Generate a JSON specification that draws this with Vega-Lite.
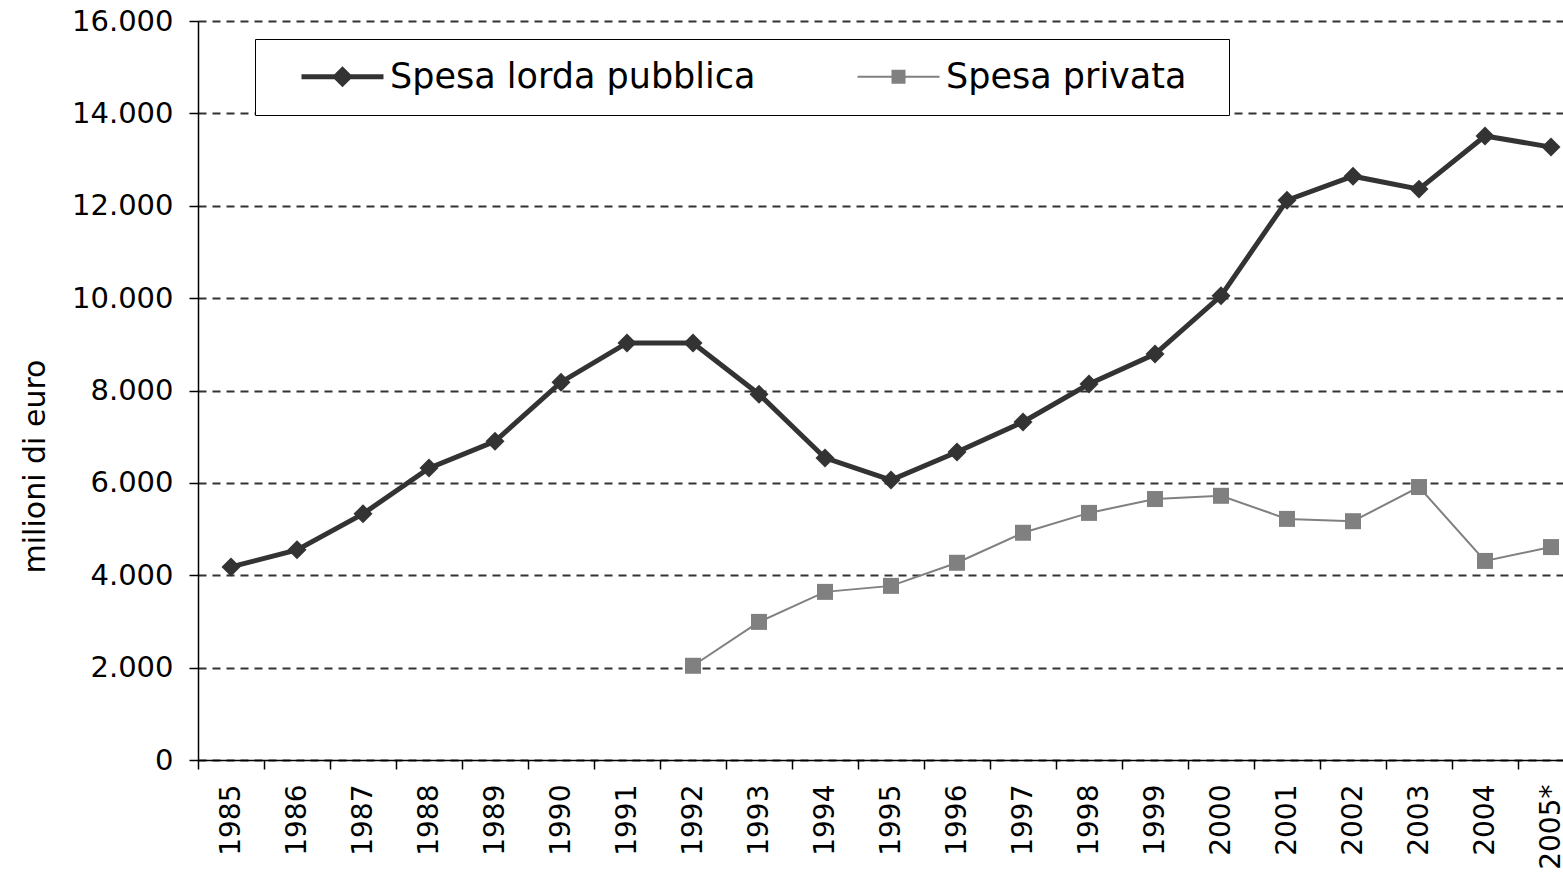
{
  "$schema": "https://vega.github.io/schema/vega-lite/v6.json",
  "width": 1365,
  "height": 739,
  "autosize": "none",
  "padding": {"left": 198, "top": 21, "right": 0, "bottom": 117},
  "background": "white",
  "config": {"view": {"stroke": null}, "font": "DejaVu Sans"},
  "data": {
    "values": [
      {"anno": "1985", "serie": "Spesa lorda pubblica", "valore": 4180},
      {"anno": "1986", "serie": "Spesa lorda pubblica", "valore": 4550},
      {"anno": "1987", "serie": "Spesa lorda pubblica", "valore": 5330},
      {"anno": "1988", "serie": "Spesa lorda pubblica", "valore": 6320},
      {"anno": "1989", "serie": "Spesa lorda pubblica", "valore": 6900},
      {"anno": "1990", "serie": "Spesa lorda pubblica", "valore": 8180},
      {"anno": "1991", "serie": "Spesa lorda pubblica", "valore": 9030},
      {"anno": "1992", "serie": "Spesa lorda pubblica", "valore": 9030},
      {"anno": "1993", "serie": "Spesa lorda pubblica", "valore": 7920},
      {"anno": "1994", "serie": "Spesa lorda pubblica", "valore": 6540},
      {"anno": "1995", "serie": "Spesa lorda pubblica", "valore": 6060},
      {"anno": "1996", "serie": "Spesa lorda pubblica", "valore": 6670},
      {"anno": "1997", "serie": "Spesa lorda pubblica", "valore": 7320},
      {"anno": "1998", "serie": "Spesa lorda pubblica", "valore": 8140},
      {"anno": "1999", "serie": "Spesa lorda pubblica", "valore": 8790},
      {"anno": "2000", "serie": "Spesa lorda pubblica", "valore": 10050},
      {"anno": "2001", "serie": "Spesa lorda pubblica", "valore": 12120},
      {"anno": "2002", "serie": "Spesa lorda pubblica", "valore": 12640},
      {"anno": "2003", "serie": "Spesa lorda pubblica", "valore": 12360},
      {"anno": "2004", "serie": "Spesa lorda pubblica", "valore": 13510},
      {"anno": "2005*", "serie": "Spesa lorda pubblica", "valore": 13270},
      {"anno": "1992", "serie": "Spesa privata", "valore": 2040},
      {"anno": "1993", "serie": "Spesa privata", "valore": 2990},
      {"anno": "1994", "serie": "Spesa privata", "valore": 3640},
      {"anno": "1995", "serie": "Spesa privata", "valore": 3770},
      {"anno": "1996", "serie": "Spesa privata", "valore": 4270},
      {"anno": "1997", "serie": "Spesa privata", "valore": 4920},
      {"anno": "1998", "serie": "Spesa privata", "valore": 5350},
      {"anno": "1999", "serie": "Spesa privata", "valore": 5650},
      {"anno": "2000", "serie": "Spesa privata", "valore": 5720},
      {"anno": "2001", "serie": "Spesa privata", "valore": 5220},
      {"anno": "2002", "serie": "Spesa privata", "valore": 5170},
      {"anno": "2003", "serie": "Spesa privata", "valore": 5910},
      {"anno": "2004", "serie": "Spesa privata", "valore": 4310},
      {"anno": "2005*", "serie": "Spesa privata", "valore": 4610}
    ]
  },
  "encoding": {
    "x": {
      "field": "anno",
      "type": "ordinal",
      "scale": {
        "domain": ["1985","1986","1987","1988","1989","1990","1991","1992","1993","1994","1995","1996","1997","1998","1999","2000","2001","2002","2003","2004","2005*"],
        "range": [0, 1386],
        "paddingInner": 0,
        "paddingOuter": 0
      },
      "axis": {
        "title": null,
        "labelAngle": -90,
        "labelFont": "DejaVu Sans",
        "labelFontSize": 28,
        "labelColor": "#000",
        "labelPadding": 15,
        "tickBand": "extent",
        "tickSize": 9,
        "tickColor": "#000",
        "tickWidth": 1.5,
        "domainColor": "#000",
        "domainWidth": 1.5,
        "grid": false
      }
    },
    "y": {
      "field": "valore",
      "type": "quantitative",
      "scale": {"domain": [0, 16000], "nice": false},
      "axis": {
        "title": "milioni di euro",
        "titleFont": "DejaVu Sans",
        "titleFontSize": 30,
        "titleFontWeight": "normal",
        "titleColor": "#000",
        "titleX": -154,
        "titleY": 445,
        "titleAngle": -90,
        "titleAlign": "center",
        "titleBaseline": "alphabetic",
        "values": [0, 2000, 4000, 6000, 8000, 10000, 12000, 14000, 16000],
        "labelExpr": "replace(format(datum.value, ','), ',', '.')",
        "labelFont": "DejaVu Sans",
        "labelFontSize": 29,
        "labelColor": "#000",
        "labelPadding": 16,
        "tickSize": 9,
        "tickColor": "#000",
        "tickWidth": 1.5,
        "domainColor": "#000",
        "domainWidth": 1.5,
        "grid": true,
        "gridColor": "#333",
        "gridDash": [8, 6],
        "gridWidth": 1.8
      }
    },
    "color": {
      "field": "serie",
      "type": "nominal",
      "scale": {"domain": ["Spesa lorda pubblica", "Spesa privata"], "range": ["#333333", "#808080"]},
      "legend": {
        "title": null,
        "orient": "none",
        "legendX": 57,
        "legendY": 18,
        "direction": "horizontal",
        "columns": 2,
        "padding": 20,
        "strokeColor": "#000",
        "fillColor": "#fff",
        "symbolSize": 1600,
        "symbolOffset": 50,
        "labelOffset": 30,
        "columnPadding": 75,
        "labelFont": "DejaVu Sans",
        "labelFontSize": 35,
        "labelColor": "#000",
        "labelLimit": 800,
        "labelExpr": "datum.value == 'Spesa privata' ? datum.label + '\u00a0\u00a0\u200b' : datum.label",
        "encode": {
          "symbols": {
            "update": {
              "shape": {"signal": "datum.value == 'Spesa privata' ? 'M-2.05,0H2.05M-0.3,-0.3H0.3V0.3H-0.3Z' : 'M-2.05,0H2.05M0,-0.35L0.35,0L0,0.35L-0.35,0Z'"},
              "fill": {"signal": "datum.value == 'Spesa privata' ? '#808080' : '#333333'"},
              "stroke": {"signal": "datum.value == 'Spesa privata' ? '#808080' : '#333333'"},
              "strokeWidth": {"signal": "datum.value == 'Spesa privata' ? 2 : 5"},
              "opacity": {"value": 1}
            }
          }
        }
      }
    }
  },
  "layer": [
    {
      "mark": {"type": "line"},
      "encoding": {
        "strokeWidth": {"condition": {"test": "datum.serie == 'Spesa privata'", "value": 2}, "value": 5}
      }
    },
    {
      "mark": {"type": "point", "filled": true, "opacity": 1},
      "encoding": {
        "shape": {"condition": {"test": "datum.serie == 'Spesa privata'", "value": "square"}, "value": "diamond"},
        "size": {"condition": {"test": "datum.serie == 'Spesa privata'", "value": 256}, "value": 360}
      }
    }
  ]
}
